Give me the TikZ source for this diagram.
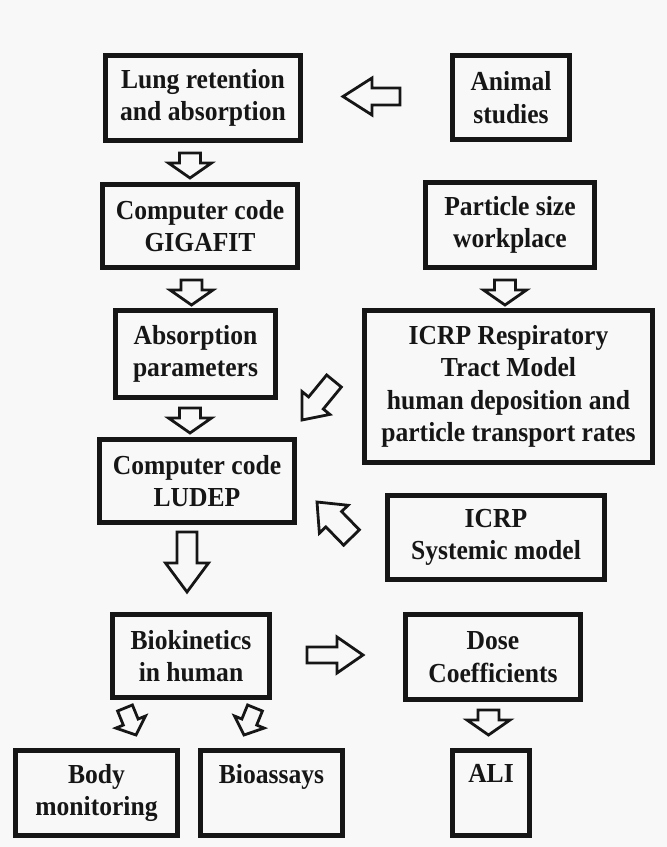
\documentclass[tikz,border=0pt]{standalone}
\usepackage{fontspec}
\setmainfont{Liberation Serif}
\newfontfamily\scanfont{Liberation Serif Bold}[FakeStretch=0.93]
\usetikzlibrary{calc}
\definecolor{ink}{RGB}{22,22,22}
\definecolor{paper}{RGB}{248,248,248}
\tikzset{
  box/.style={draw=ink, line width=5.5pt, fill=none, inner sep=0pt, align=center,
              text=ink, font=\scanfont\fontsize{27.5}{32.5}\selectfont},
  harrow/.style={draw=ink, line width=2.8pt, line join=miter, fill=none}
}
% tail, tip, shaft half width, head half width, head length
\newcommand\hollowarrow[5]{%
  \coordinate (hac) at ($(#2)!#5pt!(#1)$);
  \draw[harrow] ($(#1)!#3pt!90:(#2)$) -- ($(hac)!#3pt!90:(#2)$) -- ($(hac)!#4pt!90:(#2)$)
     -- (#2) -- ($(hac)!#4pt!-90:(#2)$) -- ($(hac)!#3pt!-90:(#2)$) -- ($(#1)!#3pt!-90:(#2)$) -- cycle;
}
\begin{document}
\begin{tikzpicture}[x=1pt,y=-1pt]
\fill[paper] (0,0) rectangle (667,847);
\useasboundingbox (0,0) rectangle (667,847);

\node[box, minimum width=195pt, minimum height=85pt] (lung) at (203,98) {Lung retention\\and absorption};
\node[box, minimum width=117pt, minimum height=84pt] (animal) at (511,97.5) {Animal\\studies};
\node[box, minimum width=195pt, minimum height=83pt] (gigafit) at (200,226) {Computer code\\GIGAFIT};
\node[box, minimum width=169pt, minimum height=85pt] (particle) at (510,225) {Particle size\\workplace};
\node[box, minimum width=160pt, minimum height=87pt] (absorp) at (195.5,354) {Absorption\\parameters};
\node[box, minimum width=288pt, minimum height=152pt] (icrp) at (508.5,386.5) {ICRP Respiratory\\Tract Model\\human deposition and\\particle transport rates};
\node[box, minimum width=195pt, minimum height=83pt] (ludep) at (197,481) {Computer code\\LUDEP};
\node[box, minimum width=217pt, minimum height=84pt] (systemic) at (496,537.5) {ICRP\\Systemic model};
\node[box, minimum width=157pt, minimum height=83pt] (bio) at (191,656) {Biokinetics\\in human};
\node[box, minimum width=175pt, minimum height=85pt] (dose) at (493,657) {Dose\\Coefficients};
\node[box, minimum width=162pt, minimum height=85pt] (body) at (96.5,793) {Body\\monitoring};
\node[box, minimum width=142pt, minimum height=85pt] (bioassay) at (271.5,793) {Bioassays\\\phantom{Xy}};
\node[box, minimum width=77pt, minimum height=85pt] (ali) at (491,793) {ALI\\\phantom{Xy}};

% hollow block arrows
\hollowarrow{400,96.5}{343,96.5}{8.5}{18.5}{29}   % animal -> lung
\hollowarrow{190,153}{190,178}{10.5}{21.5}{15}    % lung -> gigafit
\hollowarrow{191.5,280}{191.5,305}{10.5}{21.5}{15}% gigafit -> absorp
\hollowarrow{505,280}{505,305}{10.5}{21.5}{15}    % particle -> icrp
\hollowarrow{190,408}{190,433}{10.5}{21.5}{15}    % absorp -> ludep
\hollowarrow{334,381}{302,420}{9.5}{18}{22}       % icrp -> ludep
\hollowarrow{351.5,537.5}{317,502}{11}{20}{24}    % systemic -> ludep
\hollowarrow{187,532}{187,592}{10}{21.5}{29}      % ludep -> bio
\hollowarrow{307,655}{363,655}{8}{18}{26}         % bio -> dose
\hollowarrow{488.5,710}{488.5,735}{10.5}{21.5}{15}% dose -> ali
\hollowarrow{125,708}{136,735}{8}{16}{14}         % bio -> body
\hollowarrow{255,708}{244,735}{8}{16}{14}         % bio -> bioassay
\end{tikzpicture}
\end{document}
